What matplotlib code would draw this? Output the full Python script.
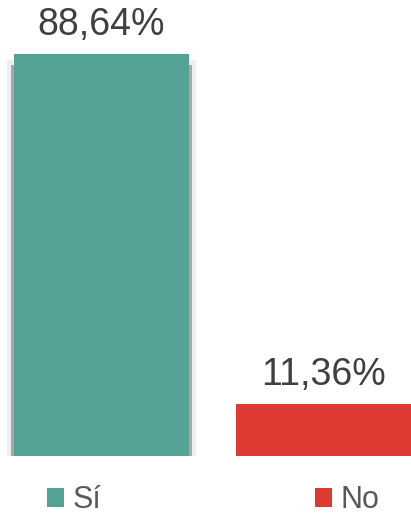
"""
Bar chart: Sí / No percentages.
"""

import matplotlib

matplotlib.use("Agg")
import matplotlib.pyplot as plt
from matplotlib.patches import Patch

plt.rcParams["font.family"] = ["Liberation Sans", "DejaVu Sans"]

categories = ["Sí", "No"]
values = [88.64, 11.36]
labels = ["88,64%", "11,36%"]
colors = ["#52a395", "#dc3a33"]


def main():
    fig = plt.figure(figsize=(4.11, 5.13), dpi=100)
    ax = fig.add_axes([0, 57 / 513, 1, 456 / 513])
    x = list(range(len(values)))

    # soft shadow behind the first bar
    ax.bar(x[0], values[0] - 1.3, width=0.85, color="#efefef", zorder=1)
    ax.bar(x[0], values[0] - 2.4, width=0.815, color="#a8a8a8", zorder=2)
    ax.bar(x[0], 0.5, width=0.74, color="#222222", zorder=2)

    ax.bar(x, values, width=0.788, color=colors, zorder=3)

    for xi, v, lab in zip(x, values, labels):
        ax.text(xi, v + 4.2, lab, ha="center", va="baseline",
                fontsize=27, color="#404040")

    ax.set_xlim(-0.457, 1.394)
    ax.set_ylim(0, 100.55)
    ax.axis("off")

    handles = [Patch(facecolor=c, edgecolor="none") for c in colors]
    fig.legend(
        handles,
        categories,
        loc="center",
        bbox_to_anchor=(213 / 411, 13 / 513),
        ncol=2,
        frameon=False,
        fontsize=22,
        handlelength=0.56,
        handleheight=0.56,
        handletextpad=0.26,
        columnspacing=7.0,
        labelcolor="#595959",
        borderpad=0,
        borderaxespad=0,
    )

    fig.savefig("out.png", dpi=100)


if __name__ == "__main__":
    main()
